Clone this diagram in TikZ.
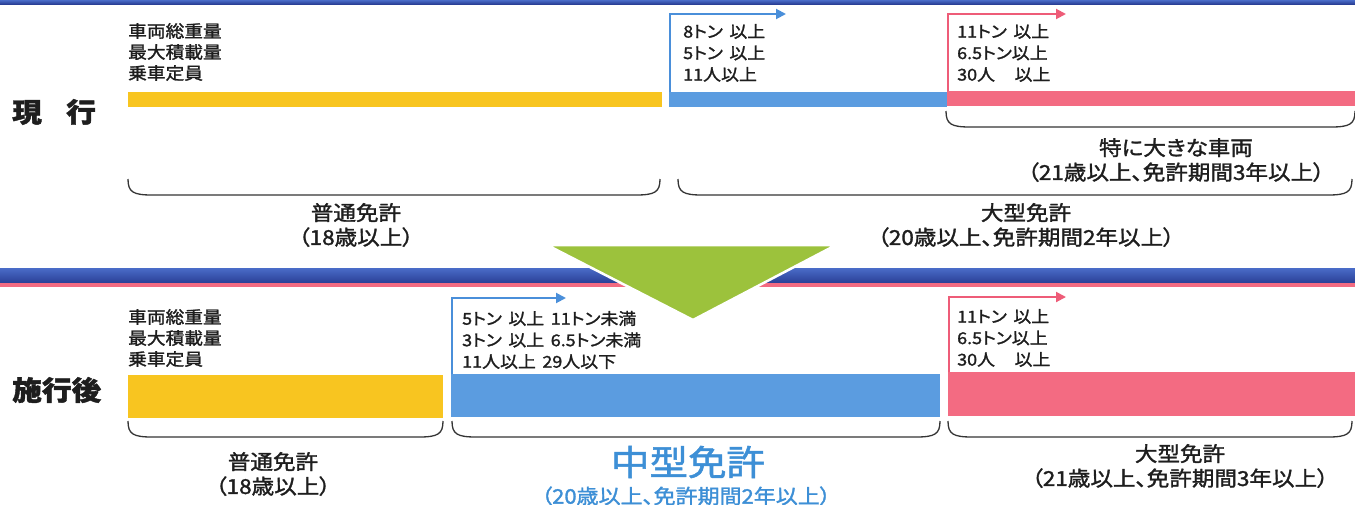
\documentclass[tikz,border=0pt]{standalone}
\usepackage{fontspec}
\setmainfont{Noto Sans CJK JP}[FakeStretch=1.1, RawFeature=+palt, FakeBold=1.5]
\usetikzlibrary{arrows.meta}
\definecolor{yel}{HTML}{F8C520}
\definecolor{blu}{HTML}{5B9CE0}
\definecolor{pnk}{HTML}{F36B82}
\definecolor{arB}{HTML}{4A8FDA}
\definecolor{arP}{HTML}{EE5C78}
\definecolor{txt}{HTML}{1E1E1E}
\definecolor{bandT}{HTML}{4A6CC8}
\definecolor{bandB}{HTML}{2A3F96}
\definecolor{grn}{HTML}{9CC23C}
\definecolor{midB}{HTML}{3D8FD6}
\newcommand\mybrace[3]{\draw[brace] (#1,#3) .. controls (#1,#3+13) and (#1+5,#3+16) .. (#1+24,#3+16) -- (#2-24,#3+16) .. controls (#2-5,#3+16) and (#2,#3+13) .. (#2,#3);}
\newcommand\jsp{\hspace{0.4em}}
\begin{document}
\begin{tikzpicture}[x=1pt,y=-1pt,
  bar/.style={draw=none,inner sep=0pt,outer sep=0pt,anchor=north west},
  lab/.style={inner sep=0pt,anchor=west,align=left,text=txt,font=\fontsize{17}{21}\selectfont},
  ann/.style={inner sep=0pt,anchor=west,align=left,text=txt,font=\fontsize{16.3}{21.5}\selectfont},
  lic/.style={inner sep=0pt,align=center,text=txt,font=\fontsize{20.5}{24.5}\selectfont},
  head/.style={inner sep=0pt,anchor=west,text=txt,font=\fontsize{27}{30}\selectfont\bfseries},
  arrB/.style={draw=arB,line width=2pt,-{Triangle[length=10pt,width=10pt]}},
  arrP/.style={draw=arP,line width=2pt,-{Triangle[length=10pt,width=10pt]}},
  brace/.style={draw=txt!90,line width=1.3pt}]
\useasboundingbox (0,0) rectangle (1355,504);
\fill[white] (0,0) rectangle (1355,504);
% bands
\shade[top color=bandT,bottom color=bandB] (0,0) rectangle (1355,4);
\shade[top color=bandT,bottom color=bandB] (0,268) rectangle (1355,283);
\fill[pnk] (0,283) rectangle (1355,287);
% green triangle
\filldraw[fill=grn,draw=white,line width=2.5pt,line join=miter] (547,245) -- (836,245) -- (693,320) -- cycle;

% headings
\node[head] (h1) at (12,112) {現\hspace{0.9em}行};
\node[head] (h2) at (12,390) {施行後};

% ---------- top row ----------
\node[lab] (l1) at (128,52) {車両総重量\\最大積載量\\乗車定員};
\node[bar,fill=yel,minimum width=534pt,minimum height=15pt] (y1) at (128,92) {};
\node[bar,fill=blu,minimum width=278pt,minimum height=15pt] (b1) at (669,92) {};
\node[bar,fill=pnk,minimum width=408pt,minimum height=15pt] (p1) at (947,91) {};
\coordinate (ab1) at (786,14);
\coordinate (ap1) at (1066,14);
\draw[arrB] ([xshift=1pt]b1.north west) |- (ab1);
\draw[arrP] ([xshift=1pt]p1.north west) |- (ap1);
\node[ann] (t1) at (683,53) {8トン\jsp 以上\\5トン\jsp 以上\\11人以上};
\node[ann] (t2) at (957,53) {11トン\jsp 以上\\6.5トン以上\\30人\hspace{1.2em}以上};
\mybrace{946}{1355}{111}
\node[lic] (s1) at (1176,160) {特に大きな車両\\（21歳以上、免許期間3年以上）};
\mybrace{128}{660}{179}
\mybrace{678}{1352}{179}
\node[lic] (f1) at (356,225) {普通免許\\（18歳以上）};
\node[lic] (o1) at (1026,225) {大型免許\\（20歳以上、免許期間2年以上）};

% ---------- bottom row ----------
\node[lab] (l2) at (128,338) {車両総重量\\最大積載量\\乗車定員};
\node[bar,fill=yel,minimum width=315pt,minimum height=43pt] (y2) at (128,375) {};
\node[bar,fill=blu,minimum width=489pt,minimum height=43pt] (b2) at (451,374) {};
\node[bar,fill=pnk,minimum width=407pt,minimum height=44pt] (p2) at (948,372) {};
\coordinate (ab2) at (566,298);
\coordinate (ap2) at (1066,297);
\draw[arrB] ([xshift=1pt]b2.north west) |- (ab2);
\draw[arrP] ([xshift=1pt]p2.north west) |- (ap2);
\node[ann] (t3) at (462,340) {5トン\jsp 以上\jsp 11トン未満\\3トン\jsp 以上\jsp 6.5トン未満\\11人以上\jsp 29人以下};
\node[ann] (t4) at (957,338) {11トン\jsp 以上\\6.5トン以上\\30人\hspace{1.2em}以上};
\mybrace{128}{443}{421}
\mybrace{452}{940}{421}
\mybrace{948}{1352}{421}
\node[lic] (f2) at (273,474) {普通免許\\（18歳以上）};
\node[lic] (o2) at (1180,466) {大型免許\\（21歳以上、免許期間3年以上）};
\node[inner sep=0pt,text=midB,font=\fontsize{35}{38}\selectfont] (m2) at (688,462) {中型免許};
\node[inner sep=0pt,text=midB,font=\fontsize{20}{22}\selectfont] (m3) at (686,496) {（20歳以上、免許期間2年以上）};
\end{tikzpicture}
\end{document}
